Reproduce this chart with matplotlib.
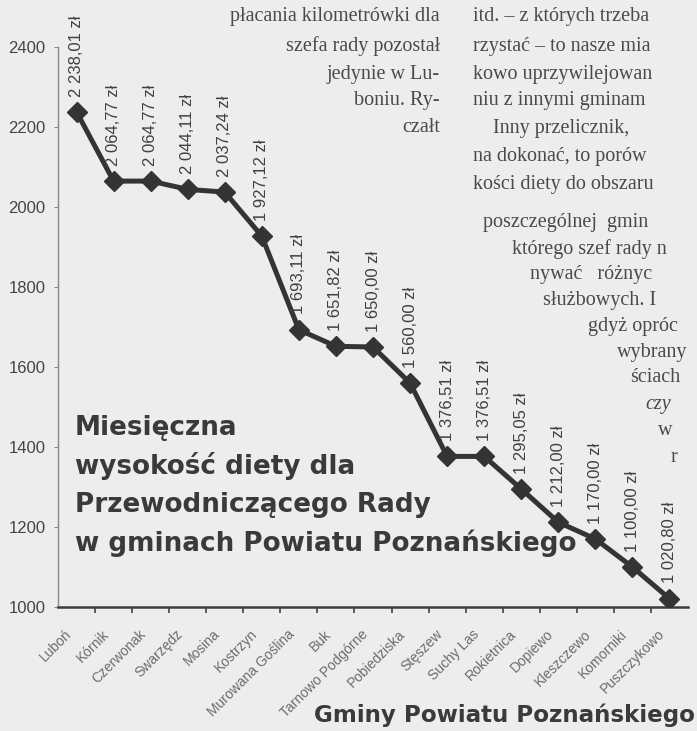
import matplotlib
matplotlib.use("Agg")
import matplotlib.pyplot as plt
from matplotlib.ticker import FixedLocator, NullFormatter
from matplotlib.transforms import ScaledTranslation

# data
gminy = ["Luboń", "Kórnik", "Czerwonak", "Swarzędz", "Mosina", "Kostrzyn",
         "Murowana Goślina", "Buk", "Tarnowo Podgórne", "Pobiedziska",
         "Stęszew", "Suchy Las", "Rokietnica", "Dopiewo", "Kleszczewo",
         "Komorniki", "Puszczykowo"]
dieta = [2238.01, 2064.77, 2064.77, 2044.11, 2037.24, 1927.12, 1693.11,
         1651.82, 1650.00, 1560.00, 1376.51, 1376.51, 1295.05, 1212.00,
         1170.00, 1100.00, 1020.80]
y_ticks = [1000, 1200, 1400, 1600, 1800, 2000, 2200, 2400]

title_lines = ["Miesięczna", "wysokość diety dla", "Przewodniczącego Rady",
               "w gminach Powiatu Poznańskiego"]
x_title = "Gminy Powiatu Poznańskiego"

# fragments of the newspaper article that sit behind the chart
article_left = ["płacania kilometrówki dla", "szefa rady pozostał",
                "jedynie w Lu-", "boniu. Ry-", "czałt"]
article_right = ["itd. – z których trzeba", "rzystać – to nasze mia",
                 "kowo uprzywilejowan", "niu z innymi gminam",
                 "Inny przelicznik,", "na dokonać, to porów",
                 "kości diety do obszaru", "poszczególnej  gmin",
                 "którego szef rady n", "nywać   różnyc",
                 "służbowych. I", "gdyż opróc", "wybrany", "ściach",
                 "czy", "w", "r"]


def label_pl(v):
    return f"{v:,.2f}".replace(",", " ").replace(".", ",") + " zł"


W, H = 697, 731
fig = plt.figure(figsize=(W / 100, H / 100), dpi=100)
fig.patch.set_facecolor("#ededed")

# article text (drawn first, behind the chart)
left_y = [17, 46, 74, 101, 128]
for txt, y in zip(article_left, left_y):
    fig.text(440 / W, 1 - y / H, txt, ha="right", va="center",
             family="Liberation Serif", fontsize=14.5, color="#4a4a4a")
right_pos = [(473, 17), (473, 46), (473, 74), (473, 101), (493, 128),
             (473, 156), (473, 185), (483, 222), (512, 249), (530, 274),
             (543, 300), (588, 326), (617, 352), (630, 378), (645, 405),
             (658, 431), (671, 457)]
for txt, (x, y) in zip(article_right, right_pos):
    fig.text(x / W, 1 - y / H, txt, ha="left", va="center",
             family="Liberation Serif", fontsize=14.5, color="#4a4a4a",
             style="italic" if txt == "czy" else "normal")

ax = fig.add_axes([58 / W, 1 - 607 / H, 630 / W, 560 / H])
ax.set_facecolor("none")

x = list(range(len(gminy)))
ax.plot(x, dieta, color="#343434", lw=3.6, marker="D", ms=10,
        markerfacecolor="#343434", markeredgecolor="#343434", zorder=3)

for i, v in enumerate(dieta):
    ax.annotate(label_pl(v), (i, v), xytext=(0, 11), textcoords="offset points",
                rotation=90, ha="center", va="bottom",
                family="Liberation Sans", fontsize=12, color="#404040")

ax.set_xlim(-0.5, len(gminy) - 0.5)
ax.set_ylim(1000, 2400)
ax.set_yticks(y_ticks)
ax.set_yticklabels([str(t) for t in y_ticks], family="Liberation Sans",
                   fontsize=12, color="#444444")
ax.tick_params(axis="y", length=3, width=0.8, color="#888888", pad=6)

ax.set_xticks(x)
ax.set_xticklabels(gminy, rotation=45, ha="right", va="center",
                   rotation_mode="anchor", family="Liberation Sans",
                   fontsize=10, color="#6c6c6c")
ax.tick_params(axis="x", which="major", length=0, pad=18)
ax.xaxis.set_minor_locator(FixedLocator([k + 0.5 for k in range(len(gminy) - 1)]))
ax.xaxis.set_minor_formatter(NullFormatter())
ax.tick_params(axis="x", which="minor", length=4, width=1.2, color="#444444",
               direction="out")
shift = ScaledTranslation(-7 / 100, 0, fig.dpi_scale_trans)
for lab in ax.get_xticklabels():
    lab.set_transform(lab.get_transform() + shift)

for s in ["top", "right"]:
    ax.spines[s].set_visible(False)
ax.spines["left"].set_color("#8a8a8a")
ax.spines["left"].set_linewidth(1.0)
ax.spines["bottom"].set_color("#3c3c3c")
ax.spines["bottom"].set_linewidth(1.8)

# chart title, placed inside the plot area
title_y = [428, 466, 505, 543]
for txt, y in zip(title_lines, title_y):
    fig.text(75 / W, 1 - y / H, txt, ha="left", va="center",
             family="DejaVu Sans", fontweight="bold", fontsize=18.9,
             color="#3a3a3a")

fig.text(695 / W, 1 - 715 / H, x_title, ha="right", va="center",
         family="DejaVu Sans", fontweight="bold", fontsize=16.6, color="#3a3a3a")

fig.savefig("out.png", dpi=100, facecolor=fig.get_facecolor())
